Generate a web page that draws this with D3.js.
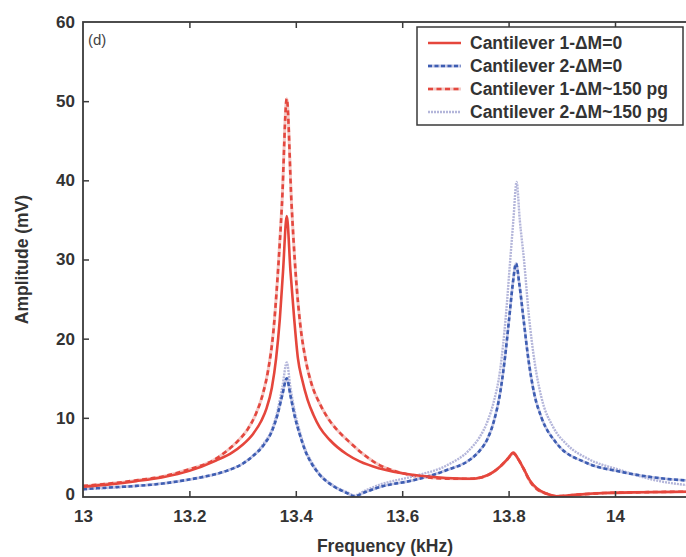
<!DOCTYPE html>
<html>
<head>
<meta charset="utf-8">
<script src="https://cdn.jsdelivr.net/npm/d3@7"></script>
<style>
  html, body { margin: 0; padding: 0; background: #fff; }
  svg { display: block; }
  text { font-family: "Liberation Sans", Arial, Helvetica, sans-serif; }
</style>
</head>
<body>
<svg id="chart" width="686" height="557"></svg>
<script>
// ---- Data ----
const seriesNames = ["Cantilever 1-ΔM=0", "Cantilever 2-ΔM=0", "Cantilever 1-ΔM~150 pg", "Cantilever 2-ΔM~150 pg"];

// Cantilever 1, ΔM=0
const freq1 = [13.00,13.05,13.10,13.15,13.20,13.25,13.28,13.30,13.32,13.335,13.345,13.355,13.363,13.37,13.376,13.383,13.39,13.397,13.404,13.412,13.422,13.433,13.445,13.464,13.496,13.52,13.558,13.62,13.683,13.727,13.75,13.77,13.785,13.798,13.809,13.818,13.828,13.84,13.853,13.872,13.89,13.93,13.98,14.05,14.2];
const amp1  = [1.3,1.6,2.0,2.5,3.3,4.6,5.6,6.6,8.0,9.6,11.2,13.8,17.5,22.5,28.5,35.5,28.5,22.5,17.5,14.8,12.3,10.4,8.8,7.2,5.4,4.5,3.6,2.8,2.4,2.3,2.5,3.1,3.9,4.8,5.6,4.8,3.6,2.1,1.1,0.4,0.1,0.3,0.5,0.6,0.7];

// Cantilever 2, ΔM=0
const freq2 = [13.00,13.05,13.10,13.15,13.19,13.23,13.27,13.30,13.32,13.34,13.355,13.366,13.375,13.383,13.39,13.398,13.407,13.418,13.43,13.445,13.47,13.496,13.51,13.53,13.56,13.62,13.684,13.727,13.745,13.76,13.772,13.784,13.793,13.801,13.808,13.814,13.82,13.828,13.837,13.848,13.862,13.89,13.947,14.01,14.07,14.2];
const amp2  = [1.0,1.2,1.4,1.7,2.1,2.6,3.3,4.2,5.2,6.6,8.3,10.5,13.0,15.0,12.8,10.2,8.0,5.8,4.2,2.8,1.4,0.5,0.1,0.6,1.3,2.1,3.4,4.7,5.8,7.3,9.5,13.1,17.5,22.5,27,29.5,27,22.5,17.5,13.1,10.0,6.8,4.3,3.2,2.5,1.9];

// Cantilever 1, ΔM~150 pg
const freq3 = [13.00,13.05,13.10,13.15,13.20,13.244,13.27,13.29,13.31,13.325,13.338,13.348,13.358,13.366,13.374,13.383,13.392,13.40,13.408,13.418,13.43,13.445,13.46,13.48,13.50,13.527,13.558,13.59,13.62,13.66,13.70,13.727,13.75,13.77,13.785,13.798,13.809,13.818,13.828,13.84,13.853,13.872,13.89,13.93,13.98,14.05,14.2];
const amp3  = [1.4,1.7,2.1,2.6,3.5,4.6,5.8,7.0,8.6,10.5,13.0,16.0,21,28,37,50.3,37,28,22,17.5,14.2,11.8,10.0,8.3,7.0,5.4,4.0,3.2,2.7,2.4,2.3,2.3,2.5,3.1,3.9,4.8,5.5,4.8,3.6,2.0,1.0,0.4,0.1,0.3,0.5,0.6,0.7];

// Cantilever 2, ΔM~150 pg
const freq4 = [13.00,13.10,13.19,13.27,13.30,13.34,13.355,13.366,13.375,13.383,13.39,13.398,13.407,13.418,13.43,13.445,13.47,13.496,13.51,13.53,13.56,13.62,13.684,13.727,13.745,13.76,13.772,13.784,13.795,13.803,13.809,13.815,13.821,13.829,13.838,13.849,13.862,13.884,13.91,13.95,14.01,14.07,14.2];
const amp4  = [1.0,1.4,2.1,3.3,4.2,6.8,8.5,11.0,14.0,17.0,13.8,10.8,8.4,6.0,4.4,2.9,1.5,0.6,0.2,0.8,1.6,2.6,4.0,6.0,7.5,9.5,12.0,16.0,23,29.9,35,39.8,35,29.9,23,17,12.5,8.8,6.6,4.8,3.4,2.2,1.2];

const xTicks = [13, 13.2, 13.4, 13.6, 13.8, 14];
const xTickLabels = ["13", "13.2", "13.4", "13.6", "13.8", "14"];
const yTicks = [0, 10, 20, 30, 40, 50, 60];

// ---- Layout ----
const svg = d3.select("#chart");
const mLeft = 83, mTop = 22, mBottom = 497;
const x = d3.scaleLinear().domain([13, 14.2]).range([mLeft, mLeft + 532 * 1.2]);
const y = d3.scaleLinear().domain([0, 60]).range([mBottom, mTop]);
const mRight = x(14.2);

svg.append("defs").append("clipPath").attr("id", "plotclip")
  .append("rect").attr("x", mLeft).attr("y", mTop).attr("width", mRight - mLeft).attr("height", mBottom - mTop);

const plot = svg.append("g").attr("clip-path", "url(#plotclip)");
const line = d3.line().x(d => x(d[0])).y(d => y(d[1])).curve(d3.curveMonotoneX);
const zip = (f, a) => f.map((v, i) => [v, a[i]]);

const d1 = zip(freq1, amp1), d2 = zip(freq2, amp2), d3s = zip(freq3, amp3), d4 = zip(freq4, amp4);

// Cantilever 1 with mass (red dashed with pale underlay)
plot.append("path").attr("d", line(d3s)).attr("fill", "none").attr("stroke", "#f3c9c6").attr("stroke-width", 3);
plot.append("path").attr("d", line(d3s)).attr("fill", "none").attr("stroke", "#e4473e").attr("stroke-width", 2.6).attr("stroke-dasharray", "5,3.5");
// Cantilever 2 with mass (lavender dotted)
plot.append("path").attr("d", line(d4)).attr("fill", "none").attr("stroke", "#b4b6da").attr("stroke-width", 2.4).attr("stroke-dasharray", "2,1");
// Cantilever 2 no mass (blue dashed)
plot.append("path").attr("d", line(d2)).attr("fill", "none").attr("stroke", "#c3c7e6").attr("stroke-width", 2.6);
plot.append("path").attr("d", line(d2)).attr("fill", "none").attr("stroke", "#3d5db2").attr("stroke-width", 2.6).attr("stroke-dasharray", "4,2.5");
// Cantilever 1 no mass (red solid)
plot.append("path").attr("d", line(d1)).attr("fill", "none").attr("stroke", "#e5463c").attr("stroke-width", 2.6);

// ---- Frame and ticks ----
const axisColor = "#3a3a3a";
svg.append("rect").attr("x", mLeft).attr("y", mTop).attr("width", mRight - mLeft).attr("height", mBottom - mTop)
  .attr("fill", "none").attr("stroke", axisColor).attr("stroke-width", 1.8);

const xAxisB = d3.axisBottom(x).tickValues(xTicks).tickSize(-6).tickFormat((d, i) => xTickLabels[i]).tickPadding(13);
const gxb = svg.append("g").attr("transform", `translate(0,${mBottom})`).call(xAxisB);
const xAxisT = d3.axisTop(x).tickValues(xTicks).tickSize(-6).tickFormat("");
const gxt = svg.append("g").attr("transform", `translate(0,${mTop})`).call(xAxisT);
const yAxisL = d3.axisLeft(y).tickValues(yTicks).tickSize(-6).tickPadding(8);
const gyl = svg.append("g").attr("transform", `translate(${mLeft},0)`).call(yAxisL);

[gxb, gxt, gyl].forEach(g => {
  g.select(".domain").remove();
  g.selectAll(".tick line").attr("stroke", axisColor).attr("stroke-width", 1.5);
  g.selectAll(".tick text").attr("fill", "#333").attr("font-size", 17).attr("font-weight", "bold")
    .attr("font-family", "'Liberation Sans', Arial, sans-serif");
});
gxb.selectAll(".tick text").attr("dy", "0.71em");
gxb.selectAll(".tick").filter(d => d === 13).select("line").remove();
gxt.selectAll(".tick").filter(d => d === 13).select("line").remove();
gyl.selectAll(".tick").filter(d => d === 0 || d === 60).select("line").remove();
gyl.selectAll(".tick").filter(d => d === 0).select("text").attr("dy", "0.15em");

// Axis titles
svg.append("text").attr("x", 385).attr("y", 552).attr("text-anchor", "middle")
  .attr("font-size", 17.5).attr("font-weight", "bold").attr("fill", "#333").text("Frequency (kHz)");
svg.append("text").attr("transform", `translate(28,${(mTop + mBottom) / 2}) rotate(-90)`).attr("text-anchor", "middle")
  .attr("font-size", 17.5).attr("font-weight", "bold").attr("fill", "#333").text("Amplitude (mV)");

// Panel label
svg.append("text").attr("x", 88).attr("y", 45).attr("font-size", 15).attr("fill", "#444").text("(d)");

// ---- Legend ----
const lg = svg.append("g");
lg.append("rect").attr("x", 417).attr("y", 27).attr("width", 266).attr("height", 98)
  .attr("fill", "#fff").attr("stroke", axisColor).attr("stroke-width", 1.5);
const legendStyles = [
  {under: null, stroke: "#e5463c", dash: null, w: 2.6},
  {under: "#c3c7e6", stroke: "#3d5db2", dash: "4,2.5", w: 2.6},
  {under: "#f3c9c6", stroke: "#e4473e", dash: "5,3.5", w: 2.6},
  {under: null, stroke: "#b4b6da", dash: "2,1", w: 2.4}
];
const rowY = [43, 66, 89, 112];
seriesNames.forEach((name, i) => {
  const s = legendStyles[i];
  if (s.under) lg.append("line").attr("x1", 428).attr("x2", 461).attr("y1", rowY[i]).attr("y2", rowY[i])
    .attr("stroke", s.under).attr("stroke-width", 3);
  lg.append("line").attr("x1", 428).attr("x2", 461).attr("y1", rowY[i]).attr("y2", rowY[i])
    .attr("stroke", s.stroke).attr("stroke-width", s.w).attr("stroke-dasharray", s.dash);
  lg.append("text").attr("x", 470).attr("y", rowY[i]).attr("dy", "0.36em")
    .attr("font-size", 17.5).attr("font-weight", "bold").attr("fill", "#333").text(name);
});
</script>
</body>
</html>
